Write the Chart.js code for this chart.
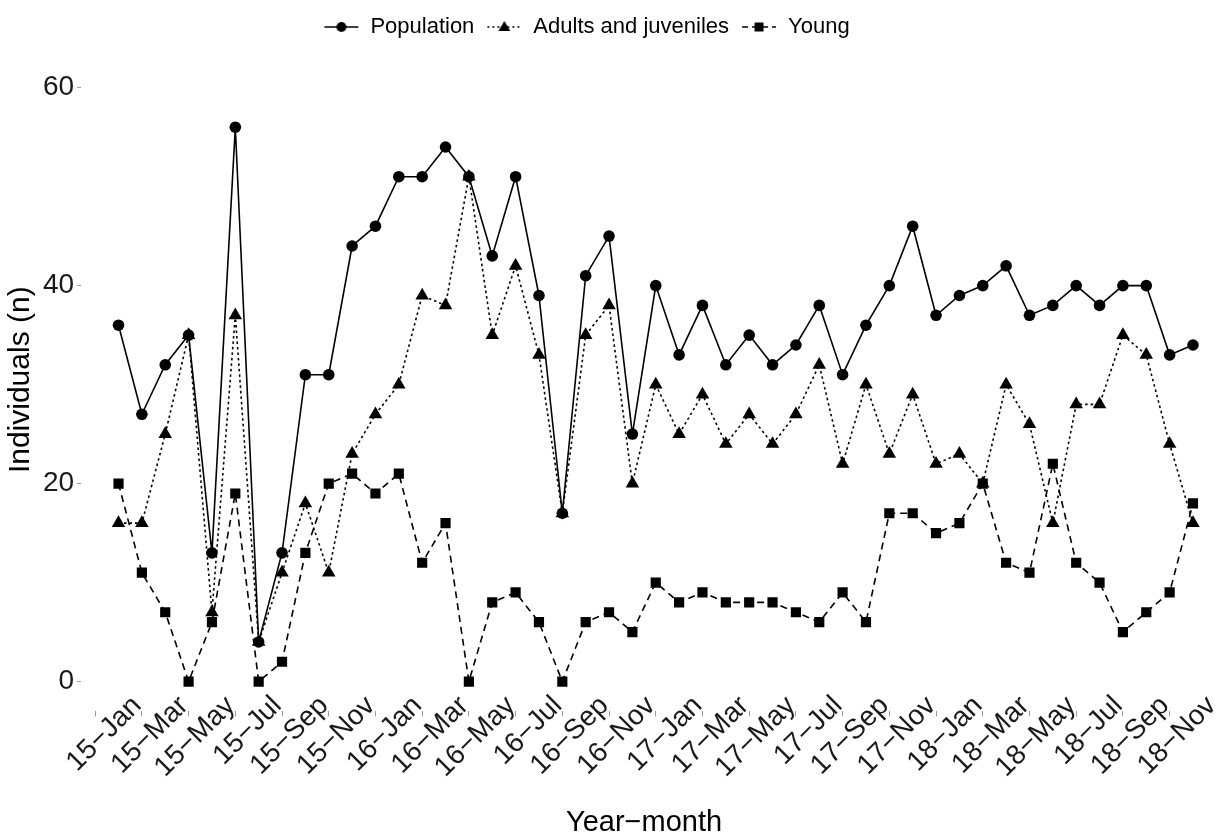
<!DOCTYPE html>
<html>
<head>
<meta charset="utf-8">
<script src="https://cdn.jsdelivr.net/npm/chart.js@4/dist/chart.umd.min.js"></script>
<style>
  html, body { margin: 0; padding: 0; background: #ffffff; }
  #wrap { width: 1229px; height: 836px; position: relative; }
</style>
</head>
<body>
<div id="wrap"><canvas id="c" width="1229" height="836"></canvas></div>
<script>
// Monthly observations from 15-Feb to 18-Dec (axis starts at 15-Jan)
const months = ['15-Feb','15-Mar','15-Apr','15-May','15-Jun','15-Jul','15-Aug','15-Sep','15-Oct','15-Nov','15-Dec',
  '16-Jan','16-Feb','16-Mar','16-Apr','16-May','16-Jun','16-Jul','16-Aug','16-Sep','16-Oct','16-Nov','16-Dec',
  '17-Jan','17-Feb','17-Mar','17-Apr','17-May','17-Jun','17-Jul','17-Aug','17-Sep','17-Oct','17-Nov','17-Dec',
  '18-Jan','18-Feb','18-Mar','18-Apr','18-May','18-Jun','18-Jul','18-Aug','18-Sep','18-Oct','18-Nov','18-Dec'];
const population = [36,27,32,35,13,56,4,13,31,31,44,46,51,51,54,51,43,51,39,17,41,45,25,40,33,38,32,35,32,34,38,31,36,40,46,37,39,40,42,37,38,40,38,40,40,33,34];
const adults = [16,16,25,35,7,37,4,11,18,11,23,27,30,39,38,51,35,42,33,17,35,38,20,30,25,29,24,27,24,27,32,22,30,23,29,22,23,20,30,26,16,28,28,35,33,24,16];
const young = [20,11,7,0,6,19,0,2,13,20,21,19,21,12,16,0,8,9,6,0,6,7,5,10,8,9,8,8,8,7,6,9,6,17,17,15,16,20,12,11,22,12,10,5,7,9,18];
const xTickLabels = ['15\u2212Jan','15\u2212Mar','15\u2212May','15\u2212Jul','15\u2212Sep','15\u2212Nov',
  '16\u2212Jan','16\u2212Mar','16\u2212May','16\u2212Jul','16\u2212Sep','16\u2212Nov',
  '17\u2212Jan','17\u2212Mar','17\u2212May','17\u2212Jul','17\u2212Sep','17\u2212Nov',
  '18\u2212Jan','18\u2212Mar','18\u2212May','18\u2212Jul','18\u2212Sep','18\u2212Nov'];
const yTicks = [0, 20, 40, 60];
const seriesNames = ['Population', 'Adults and juveniles', 'Young'];

const FONT = "'Liberation Sans', Arial, Helvetica, sans-serif";

function toPoints(arr) { return arr.map((v, i) => ({ x: i + 1, y: v })); }

function keyImage(dash, marker) {
  const c = document.createElement('canvas');
  c.width = 36; c.height = 18;
  const g = c.getContext('2d');
  g.strokeStyle = '#000'; g.lineWidth = 1.6; g.setLineDash(dash);
  g.beginPath(); g.moveTo(1, 9); g.lineTo(35, 9); g.stroke();
  g.setLineDash([]); g.fillStyle = '#000';
  g.beginPath();
  if (marker === 'circle') { g.arc(18, 9, 5, 0, Math.PI * 2); }
  else if (marker === 'triangle') { g.moveTo(18, 3); g.lineTo(24, 13); g.lineTo(12, 13); g.closePath(); }
  else { g.rect(13.5, 4.5, 9, 9); }
  g.fill();
  return c;
}
const keys = [keyImage([], 'circle'), keyImage([2, 3], 'triangle'), keyImage([6, 4], 'rect')];

const layoutTweaks = {
  id: 'layoutTweaks',
  afterLayout(chart) {
    // keep rotated tick labels unclipped (they sit partly above the axis box)
    chart.scales.x._computeLabelArea = () => undefined;
    // legend is centred slightly left of the canvas centre in the reference
    if (chart.legend) { chart.legend.left -= 17; chart.legend.right -= 17; }
  }
};

const common = { borderColor: '#000', backgroundColor: '#000', borderWidth: 1.6, pointBorderWidth: 0, tension: 0 };

new Chart(document.getElementById('c'), {
  type: 'line',
  data: {
    datasets: [
      Object.assign({ label: seriesNames[0], data: toPoints(population), pointStyle: 'circle', pointRadius: 5.8, borderDash: [] }, common),
      Object.assign({ label: seriesNames[1], data: toPoints(adults), pointStyle: 'triangle', pointRadius: 7.8, borderDash: [2.5, 3] }, common),
      Object.assign({ label: seriesNames[2], data: toPoints(young), pointStyle: 'rect', pointRadius: 7.2, borderDash: [7, 5] }, common)
    ]
  },
  plugins: [layoutTweaks],
  options: {
    responsive: false,
    animation: false,
    devicePixelRatio: 1,
    layout: { padding: { top: 4, right: 22, left: 0, bottom: 0 } },
    plugins: {
      tooltip: { enabled: false },
      legend: {
        position: 'top',
        labels: {
          usePointStyle: true,
          pointStyleWidth: 36,
          boxHeight: 18,
          padding: 12,
          color: '#000',
          font: { family: FONT, size: 22 },
          generateLabels: (chart) => seriesNames.map((n, i) => ({
            text: n, pointStyle: keys[i], fillStyle: '#000', strokeStyle: '#000', lineWidth: 0, hidden: false, datasetIndex: i, fontColor: '#000'
          }))
        }
      }
    },
    scales: {
      x: {
        type: 'linear',
        min: -0.6,
        max: 47.6,
        afterBuildTicks: (ax) => { ax.ticks = xTickLabels.map((_, i) => ({ value: i * 2 })); },
        ticks: {
          autoSkip: false, minRotation: 45, maxRotation: 45,
          labelOffset: 42, padding: -27,
          color: '#1a1a1a', font: { family: FONT, size: 28 },
          callback: (v, i) => xTickLabels[i]
        },
        grid: { display: true, drawOnChartArea: false, drawTicks: true, tickLength: 5, color: '#9a9a9a', lineWidth: 1 },
        border: { display: false },
        title: { display: true, text: 'Year\u2212month', color: '#000', font: { family: FONT, size: 29 }, padding: { top: 48, bottom: -4 } }
      },
      y: {
        type: 'linear',
        min: -3.02,
        max: 64,
        afterBuildTicks: (ax) => { ax.ticks = yTicks.map(v => ({ value: v })); },
        ticks: { color: '#1a1a1a', font: { family: FONT, size: 28 }, padding: 3 },
        grid: { display: true, drawOnChartArea: false, drawTicks: true, tickLength: 4, color: '#9a9a9a', lineWidth: 1 },
        border: { display: false },
        title: { display: true, text: 'Individuals (n)', color: '#000', font: { family: FONT, size: 30 }, padding: { top: 3, bottom: 1 } }
      }
    }
  }
});
</script>
</body>
</html>
